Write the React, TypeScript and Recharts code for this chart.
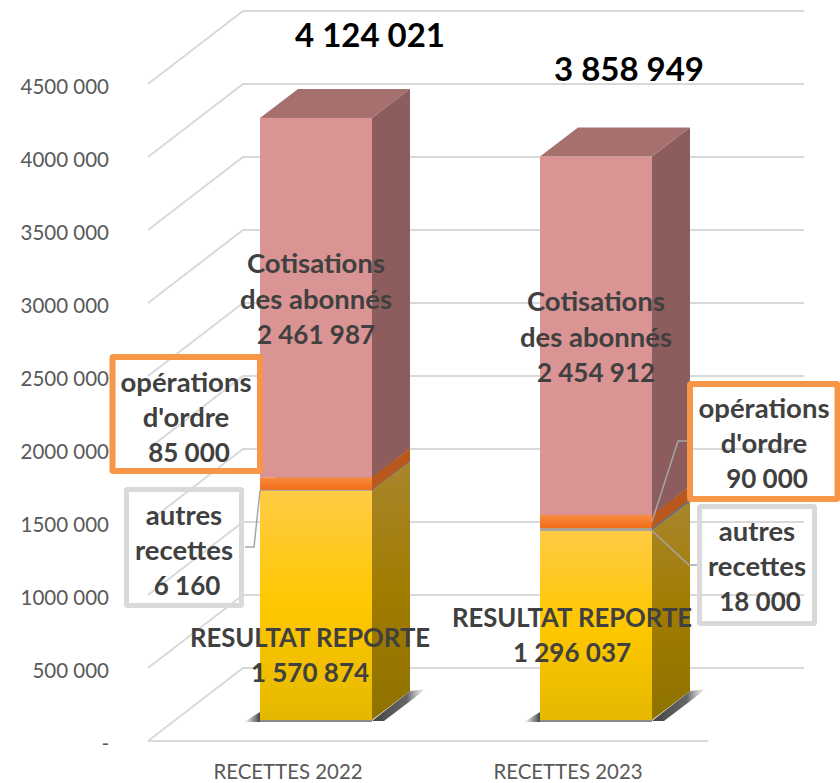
import { Bar, BarChart, CartesianGrid, LabelList, XAxis, YAxis } from 'recharts'

const categories = ['RECETTES 2022', 'RECETTES 2023']
const resultatReporte = [1570874, 1296037]
const autresRecettes = [6160, 18000]
const operationsOrdre = [85000, 90000]
const cotisations = [2461987, 2454912]
const totals = ['4 124 021', '3 858 949']

const yTicks = [0, 500000, 1000000, 1500000, 2000000, 2500000, 3000000, 3500000, 4000000, 4500000]
const yTickLabels = ['-', '500 000', '1000 000', '1500 000', '2000 000', '2500 000', '3000 000', '3500 000', '4000 000', '4500 000']

const resultatLines = ['RESULTAT REPORTE', '1 570 874', '1 296 037']
const cotisationLines = ['Cotisations', 'des abonnés', '2 461 987', '2 454 912']
const ordreLines = ["opérations", "d'ordre", '85 000', '90 000']
const autresLines = ['autres', 'recettes', '6 160', '18 000']

const data = categories.map((name, i) => ({
  name,
  resultat: resultatReporte[i],
  autres: autresRecettes[i],
  ordre: operationsOrdre[i],
  cotisations: cotisations[i],
}))

const FONT = 'Lato, Carlito, sans-serif'
const GRID = '#d9d9d9'
const INK = '#404040'
const BAR_SHIFT_X = 28
const BAR_SHIFT_Y = -21
const SIDE_X = 38
const SIDE_Y = -29

function gridLine({ x1, y1, x2, y2 }: any) {
  const key = `grid-${y1}`
  if (y1 !== y2) return <g key={key} />
  const points = `${x1},${y1} ${x1 + 95},${y1 - 73} ${x2 + 96},${y1 - 73}`
  return <polyline key={key} points={points} fill="none" stroke={GRID} strokeWidth={2} />
}

function prism(front: string, side: string, top: string, shadow = false) {
  return function PrismShape(props: any) {
    const x = props.x + BAR_SHIFT_X
    const y = props.y + BAR_SHIFT_Y
    const { width: w, height: h } = props
    const r = x + w
    const b = y + h
    return (
      <g>
        {shadow && (
          <>
            <polygon points={`${x - 16},${b + 2} ${x},${b - 8} ${x},${b + 2}`} fill="url(#shadowLeft)" />
            <rect x={x} y={b} width={w} height={2} fill="#8a8a8a" />
            <polygon
              points={`${r},${b + 1} ${r + 12},${b + 1} ${r + 54},${b - 31} ${r + SIDE_X},${b + SIDE_Y}`}
              fill="url(#shadowRight)"
            />
          </>
        )}
        <polygon points={`${x},${y} ${r},${y} ${r + SIDE_X},${y + SIDE_Y} ${x + SIDE_X},${y + SIDE_Y}`} fill={top} />
        <polygon points={`${r},${y} ${r + SIDE_X},${y + SIDE_Y} ${r + SIDE_X},${b + SIDE_Y} ${r},${b}`} fill={side} />
        <rect x={x} y={y} width={w} height={h} fill={front} />
      </g>
    )
  }
}

function TextBlock({ x, y, lines, size = 27.5, fill = INK, gap = 35.5, nudge = 0 }: any) {
  return (
    <text fontFamily={FONT} fontWeight={700} fontSize={size} fill={fill} textAnchor="middle">
      {lines.map((line: string, i: number) => {
        const last = i === lines.length - 1
        return (
          <tspan
            key={line}
            x={x + (last ? nudge : 0)}
            y={y + i * gap}
            fontSize={last ? 26 : size}
            dominantBaseline="central"
          >
            {line}
          </tspan>
        )
      })}
    </text>
  )
}

function resultatLabel({ viewBox, index }: any) {
  const cx = viewBox.x + BAR_SHIFT_X + viewBox.width / 2
  const cy = viewBox.y + BAR_SHIFT_Y + viewBox.height / 2
  const pos = index === 0 ? { dx: -6, dy: 32 } : { dx: -24, dy: -8 }
  return (
    <TextBlock
      x={cx + pos.dx}
      y={cy + pos.dy}
      gap={35}
      size={25.7}
      lines={[resultatLines[0], resultatLines[index + 1]]}
    />
  )
}

function cotisationLabel({ viewBox, index }: any) {
  const cx = viewBox.x + BAR_SHIFT_X + viewBox.width / 2
  const cy = viewBox.y + BAR_SHIFT_Y + viewBox.height / 2
  return (
    <g>
      <TextBlock x={cx} y={cy - 35} lines={[cotisationLines[0], cotisationLines[1], cotisationLines[index + 2]]} />
      <text
        x={cx + (index === 0 ? 54 : 33)}
        y={viewBox.y + BAR_SHIFT_Y + (index === 0 ? -84 : -89)}
        fontFamily={FONT}
        fontWeight={700}
        fontSize={33}
        fill="#000000"
        textAnchor="middle"
        dominantBaseline="central"
      >
        {totals[index]}
      </text>
    </g>
  )
}

function ordreLabel({ viewBox, index }: any) {
  const left = viewBox.x + BAR_SHIFT_X
  const lines = [ordreLines[0], ordreLines[1], ordreLines[index + 2]]
  if (index === 0) {
    return (
      <g>
        <rect x={112.5} y={357} width={147.5} height={114} rx={1} fill="none" stroke="#f79646" strokeWidth={6} />
        <TextBlock x={186} y={381} lines={lines} nudge={3} />
      </g>
    )
  }
  const right = left + viewBox.width
  const midY = viewBox.y + BAR_SHIFT_Y + viewBox.height / 2
  return (
    <g>
      <polyline points={`${right},${midY} 678,441 690,441`} fill="none" stroke="#a6a6a6" strokeWidth={1.5} />
      <rect x={690} y={384} width={147.5} height={115} rx={1} fill="none" stroke="#f79646" strokeWidth={6} />
      <TextBlock x={764} y={407} lines={lines} nudge={3} />
    </g>
  )
}

function autresLabel({ viewBox, index }: any) {
  const left = viewBox.x + BAR_SHIFT_X
  const right = left + viewBox.width
  const lowY = viewBox.y + BAR_SHIFT_Y + viewBox.height
  const lines = [autresLines[0], autresLines[1], autresLines[index + 2]]
  if (index === 0) {
    return (
      <g>
        <polyline points={`${left},${lowY} 254,547 245,547`} fill="none" stroke="#a6a6a6" strokeWidth={1.5} />
        <rect x={126.5} y={489.5} width={115} height={116} rx={1} fill="none" stroke={GRID} strokeWidth={5} />
        <TextBlock x={184} y={514} lines={lines} nudge={3} />
      </g>
    )
  }
  return (
    <g>
      <polyline points={`${right},${lowY} 689,565 698,565`} fill="none" stroke="#a6a6a6" strokeWidth={1.5} />
      <rect x={699.5} y={506.5} width={115} height={117} rx={1} fill="none" stroke={GRID} strokeWidth={5} />
      <TextBlock x={757} y={530} lines={lines} nudge={3} />
    </g>
  )
}

const resultatShape = prism('url(#yellowFront)', 'url(#yellowSide)', '#a8862d', true)
const autresShape = prism('#a5a5a5', '#6f6f6f', '#8a8a8a')
const ordreShape = prism('url(#orangeFront)', '#b9581d', '#b9581d')
const cotisationShape = prism('#d99493', '#8c5d5c', '#a5706e')

function YTick({ x, y, payload }: any) {
  return (
    <text
      x={x}
      y={y + 2}
      textAnchor="end"
      dominantBaseline="central"
      fontFamily={FONT}
      fontSize={20.5}
      fill="#595959"
    >
      {yTickLabels[yTicks.indexOf(payload.value)]}
    </text>
  )
}

export default function App() {
  return (
    <div style={{ position: 'absolute', left: 0, top: 0, background: '#ffffff' }}>
      <BarChart
        width={840}
        height={783}
        data={data}
        barSize={112}
        margin={{ top: 84, right: 132, bottom: 0, left: 0 }}
      >
        <defs>
          <linearGradient id="yellowFront" x1="0" y1="0" x2="0" y2="1">
            <stop offset="0" stopColor="#ffcb45" />
            <stop offset="0.5" stopColor="#ffc800" />
            <stop offset="1" stopColor="#e5b800" />
          </linearGradient>
          <linearGradient id="yellowSide" x1="0" y1="0" x2="0" y2="1">
            <stop offset="0" stopColor="#a8862d" />
            <stop offset="0.5" stopColor="#a07c00" />
            <stop offset="1" stopColor="#8f7200" />
          </linearGradient>
          <linearGradient id="orangeFront" x1="0" y1="0" x2="0" y2="1">
            <stop offset="0" stopColor="#f98c40" />
            <stop offset="1" stopColor="#f26c18" />
          </linearGradient>
          <linearGradient id="shadowLeft" x1="0" y1="0" x2="1" y2="0">
            <stop offset="0" stopColor="#555555" stopOpacity="0" />
            <stop offset="1" stopColor="#444444" />
          </linearGradient>
          <linearGradient id="shadowRight" x1="0" y1="0" x2="1" y2="0">
            <stop offset="0" stopColor="#444444" />
            <stop offset="0.65" stopColor="#555555" stopOpacity="0.9" />
            <stop offset="1" stopColor="#888888" stopOpacity="0" />
          </linearGradient>
        </defs>
        <CartesianGrid vertical={false} horizontal={gridLine} />
        <XAxis
          dataKey="name"
          height={42}
          axisLine={{ stroke: GRID, strokeWidth: 2 }}
          tickLine={false}
          tickSize={0}
          tickMargin={24}
          tick={{ fontFamily: FONT, fontSize: 20.4, fill: '#595959' }}
        />
        <YAxis
          width={148}
          domain={[0, 4500000]}
          ticks={yTicks}
          interval={0}
          axisLine={false}
          tickLine={false}
          tickSize={0}
          tickMargin={39}
          tick={YTick}
        />
        <Bar dataKey="resultat" stackId="a" shape={resultatShape} isAnimationActive={false}>
          <LabelList content={resultatLabel} />
        </Bar>
        <Bar dataKey="autres" stackId="a" shape={autresShape} isAnimationActive={false}>
          <LabelList content={autresLabel} />
        </Bar>
        <Bar dataKey="ordre" stackId="a" shape={ordreShape} isAnimationActive={false}>
          <LabelList content={ordreLabel} />
        </Bar>
        <Bar dataKey="cotisations" stackId="a" shape={cotisationShape} isAnimationActive={false}>
          <LabelList content={cotisationLabel} />
        </Bar>
      </BarChart>
    </div>
  )
}
